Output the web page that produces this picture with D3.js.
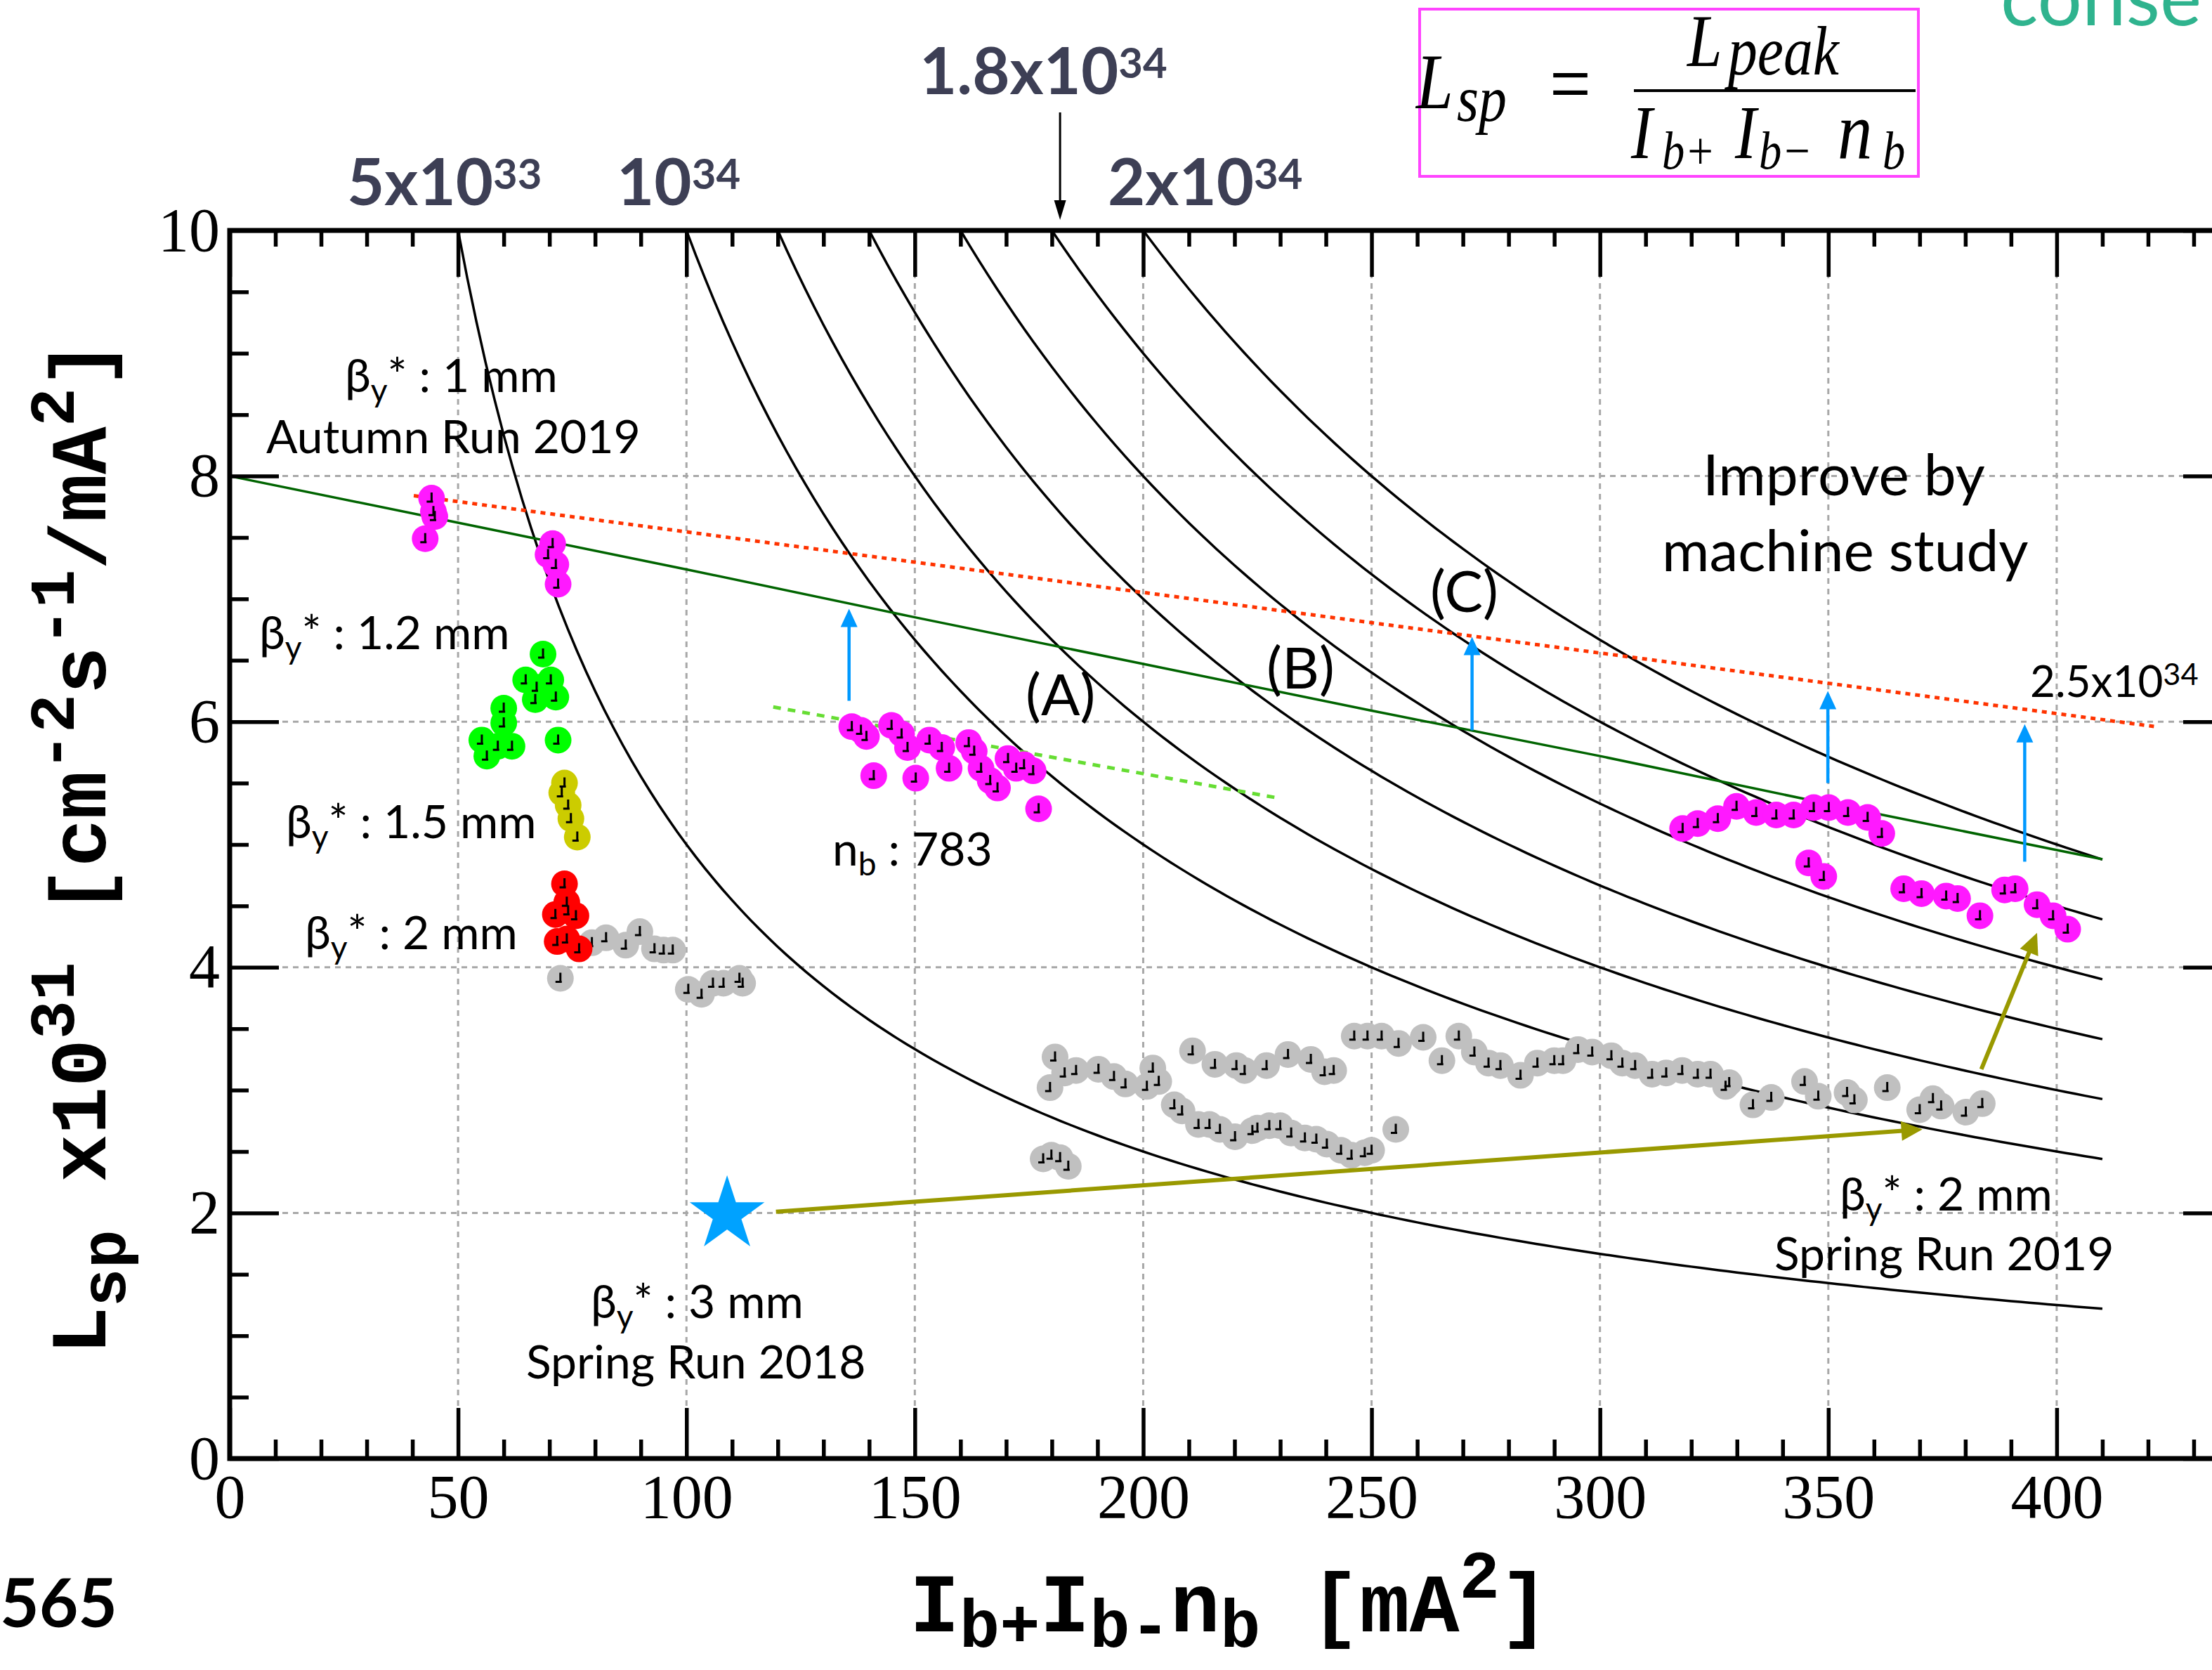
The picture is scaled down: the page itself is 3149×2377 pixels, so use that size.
<!DOCTYPE html>
<html>
<head>
<meta charset="utf-8">
<script src="https://cdn.jsdelivr.net/npm/d3@7"></script>
<style>
  html, body { margin: 0; padding: 0; background: #fff; }
  svg { display: block; }
  text { white-space: pre; }
</style>
</head>
<body>
<script>
// ---- values ----
// iso-luminosity curves, in units of 1e34
const lumLevels = [0.5, 1.0, 1.2, 1.4, 1.6, 1.8, 2.0];

// [Ib+Ib-nb (mA^2), Lsp (1e31)]
const autumn1mm = [[44.2,7.82],[44.6,7.71],[44.9,7.67],[42.8,7.49],[70.7,7.45],[69.7,7.36],[71.4,7.28],[71.9,7.12]];
const beta12 = [[68.6,6.55],[64.8,6.34],[67.2,6.28],[70.3,6.34],[71.4,6.20],[66.9,6.18],[60.0,6.11],[60.0,5.99],
  [55.2,5.85],[58.7,5.80],[61.8,5.80],[56.3,5.72],[71.9,5.85]];
const beta15 = [[73.3,5.50],[72.7,5.42],[74.1,5.32],[74.7,5.21],[76.1,5.06]];
const beta2 = [[73.3,4.68],[73.8,4.53],[71.3,4.43],[74.1,4.46],[75.8,4.42],[73.8,4.23],[71.7,4.21],[76.5,4.15]];
const nb783 = [[136.2,5.96],[138.2,5.93],[139.4,5.88],[144.9,5.97],[147.1,5.90],[148.4,5.79],[153.2,5.85],[155.9,5.79],
  [161.8,5.83],[163.0,5.76],[164.5,5.62],[166.5,5.52],[168.1,5.46],[170.4,5.70],[172.2,5.62],[173.9,5.65],
  [175.9,5.60],[177.1,5.29],[141.0,5.56],[150.2,5.54],[157.5,5.62]];
const autumnHigh = [[318.1,5.13],[321.4,5.17],[325.8,5.21],[329.9,5.31],[334.2,5.26],[338.6,5.24],[342.4,5.24],
  [346.8,5.30],[350.1,5.30],[354.3,5.26],[358.6,5.22],[361.7,5.09],[345.7,4.85],[349.0,4.74],[366.5,4.64],
  [370.4,4.60],[375.8,4.58],[378.3,4.56],[383.2,4.42],[388.6,4.63],[390.9,4.64],[395.7,4.51],[399.2,4.42],[402.4,4.31]];
const spring2019 = [[72.4,3.91],[79.3,4.20],[82.4,4.24],[86.7,4.18],[89.8,4.29],[93.0,4.15],[95.0,4.14],[97.0,4.14],
  [100.4,3.82],[103.3,3.78],[105.8,3.87],[108.1,3.87],[111.6,3.91],[112.3,3.87],
  [178.1,2.44],[179.9,2.47],[181.8,2.45],[183.6,2.38],
  [180.7,3.27],[179.6,3.02],[182.8,3.14],[185.3,3.16],[190.2,3.17],[193.6,3.11],[196.1,3.05],[200.8,3.03],[202.1,3.18],[203.4,3.07],
  [210.8,3.32],[215.7,3.21],[220.4,3.20],[222.2,3.16],[227.0,3.20],[231.7,3.29],[236.7,3.25],[239.7,3.15],[241.7,3.16],
  [246.2,3.44],[249.1,3.44],[252.2,3.44],[255.9,3.38],[261.3,3.43],[265.4,3.24],[269.1,3.44],[272.5,3.31],[275.6,3.22],
  [278.2,3.20],[282.6,3.12],[286.3,3.22],[290.0,3.24],[291.9,3.24],[295.2,3.33],[298.3,3.31],[302.5,3.28],[304.9,3.22],
  [307.7,3.20],[311.4,3.13],[314.5,3.14],[318.0,3.16],[321.4,3.13],[324.2,3.13],[327.5,3.03],[328.3,3.06],[333.5,2.88],
  [337.5,2.94],[344.8,3.07],[347.8,2.95],[354.1,2.98],[355.7,2.92],[362.9,3.02],[370.0,2.84],[372.9,2.93],[374.7,2.87],
  [380.1,2.82],[383.7,2.89],
  [206.8,2.88],[208.5,2.83],[212.1,2.72],[214.5,2.72],[216.8,2.68],[220.1,2.62],[223.9,2.67],[225.0,2.69],[227.6,2.71],
  [230.0,2.71],[232.4,2.65],[235.4,2.61],[237.9,2.60],[240.2,2.56],[243.3,2.51],[245.6,2.47],[248.5,2.49],[250.0,2.51],
  [255.3,2.68]];

const greenTrend = [[0,8.0],[50,7.62],[100,7.24],[150,6.85],[200,6.47],[250,6.09],[300,5.72],[350,5.33],[410,4.88]];
const redTarget = [[40.3,7.84],[421.5,5.96]];
const nbTrend = [[119,6.12],[229.3,5.38]];
const blueArrows = [[135.6,6.17,6.92],[272.0,5.93,6.69],[349.9,5.50,6.25],[393.0,4.86,5.98]];
const oliveArrows = [[[119.6,2.01],[370.6,2.68]],[[383.5,3.17],[395.7,4.28]]];
const star2018 = [108.9, 2.01];

const xMajor = [0,50,100,150,200,250,300,350,400];
const yMajor = [0,2,4,6,8,10];

// ---- layout ----
const width = 3149, height = 2377;
const svg = d3.select("body").append("svg").attr("width", width).attr("height", height);
svg.append("rect").attr("width", width).attr("height", height).attr("fill", "#fff");

const x = d3.scaleLinear().domain([0, 440]).range([327, 3188]);
const y = d3.scaleLinear().domain([0, 10]).range([2076, 328]);
const line = d3.line().x(d => x(d[0])).y(d => y(d[1]));

// grid
const grid = svg.append("g").attr("stroke", "#a8a8a8").attr("stroke-width", 3).attr("stroke-dasharray", "8,7");
grid.selectAll("line.v").data(xMajor.filter(d => d > 0)).enter().append("line")
  .attr("x1", d => x(d)).attr("x2", d => x(d)).attr("y1", y(0)).attr("y2", y(10));
grid.selectAll("line.h").data(yMajor.filter(d => d > 0 && d < 10)).enter().append("line")
  .attr("x1", x(0)).attr("x2", x(440)).attr("y1", d => y(d)).attr("y2", d => y(d));

// iso-luminosity curves
const curves = svg.append("g").attr("fill", "none").attr("stroke", "#000").attr("stroke-width", 3.5);
lumLevels.forEach(L => {
  const x0 = L * 100;
  const pts = d3.range(x0, 410, 2).map(v => [v, 1000 * L / v]);
  pts.push([410, 1000 * L / 410]);
  curves.append("path").attr("d", line(pts));
});

svg.append("path").attr("d", line(greenTrend)).attr("fill", "none")
  .attr("stroke", "#006400").attr("stroke-width", 3.5);
svg.append("path").attr("d", line(redTarget)).attr("fill", "none")
  .attr("stroke", "#ff3300").attr("stroke-width", 5).attr("stroke-dasharray", "7,7");
svg.append("path").attr("d", line(nbTrend)).attr("fill", "none")
  .attr("stroke", "#66dd33").attr("stroke-width", 5).attr("stroke-dasharray", "11,10");

// points
function drawSeries(data, color) {
  const g = svg.append("g");
  g.selectAll("circle").data(data).enter().append("circle")
    .attr("cx", d => x(d[0])).attr("cy", d => y(d[1])).attr("r", 19).attr("fill", color);
  g.selectAll("path").data(data).enter().append("path")
    .attr("d", d => {
      const cx = x(d[0]), cy = y(d[1]);
      return `M${cx},${cy - 8}V${cy + 6}M${cx - 7},${cy + 5}H${cx + 2}`;
    })
    .attr("stroke", "#000").attr("stroke-width", 3).attr("fill", "none");
}
drawSeries(spring2019, "#c0c0c0");
drawSeries(autumn1mm, "#ff19ff");
drawSeries(beta12, "#00ff00");
drawSeries(beta15, "#cccc00");
drawSeries(beta2, "#ff0000");
drawSeries(nb783, "#ff19ff");
drawSeries(autumnHigh, "#ff19ff");

// arrows
function arrow(x1, y1, x2, y2, color, w, headLen, headW) {
  const dx = x2 - x1, dy = y2 - y1, len = Math.hypot(dx, dy);
  const ux = dx / len, uy = dy / len;
  const bx = x2 - ux * headLen, by = y2 - uy * headLen;
  svg.append("line").attr("x1", x1).attr("y1", y1).attr("x2", bx + ux * 2).attr("y2", by + uy * 2)
    .attr("stroke", color).attr("stroke-width", w);
  svg.append("path")
    .attr("d", `M${x2},${y2}L${bx - uy * headW / 2},${by + ux * headW / 2}L${bx + uy * headW / 2},${by - ux * headW / 2}Z`)
    .attr("fill", color);
}
blueArrows.forEach(d => arrow(x(d[0]), y(d[1]), x(d[0]), y(d[2]), "#0099ff", 4.5, 26, 24));
oliveArrows.forEach(d => arrow(x(d[0][0]), y(d[0][1]), x(d[1][0]), y(d[1][1]), "#999900", 6, 30, 28));

const starR = 56;
svg.append("path")
  .attr("d", d3.symbol(d3.symbolStar, starR * starR / 0.8908130915292852)())
  .attr("transform", `translate(${x(star2018[0])},${y(star2018[1]) + 4})`)
  .attr("fill", "#00a2ff");

// axes
function styleAxis(g, labels) {
  g.select(".domain").remove();
  g.selectAll(".tick line").attr("stroke", "#000").attr("stroke-width", 5.5);
  g.selectAll("text").attr("font-family", "Liberation Serif, Times New Roman, serif")
    .attr("font-size", 88).attr("fill", "#000");
  if (!labels) g.selectAll("text").remove();
}
const minorX = d3.range(0, 441, 10).filter(v => v % 50 !== 0);
const majorXAll = d3.range(0, 441, 50);
const minorY = d3.range(0.5, 10, 0.5).filter(v => v % 2 !== 0);

svg.append("g").attr("transform", `translate(0,${y(0)})`)
  .call(d3.axisBottom(x).tickValues(xMajor).tickSize(-72).tickPadding(22).tickFormat(d3.format("d")))
  .call(g => styleAxis(g, true));
svg.append("g").attr("transform", `translate(0,${y(0)})`)
  .call(d3.axisBottom(x).tickValues(minorX).tickSize(-27)).call(g => styleAxis(g, false));
svg.append("g").attr("transform", `translate(0,${y(10)})`)
  .call(d3.axisTop(x).tickValues(majorXAll).tickSize(-66)).call(g => styleAxis(g, false));
svg.append("g").attr("transform", `translate(0,${y(10)})`)
  .call(d3.axisTop(x).tickValues(minorX).tickSize(-23)).call(g => styleAxis(g, false));
svg.append("g").attr("transform", `translate(${x(0)},0)`)
  .call(d3.axisLeft(y).tickValues(yMajor).tickSize(-70).tickPadding(14).tickFormat(d3.format("d")))
  .call(g => styleAxis(g, true));
svg.append("g").attr("transform", `translate(${x(0)},0)`)
  .call(d3.axisLeft(y).tickValues(minorY).tickSize(-27)).call(g => styleAxis(g, false));
svg.append("g").attr("transform", `translate(${x(440)},0)`)
  .call(d3.axisRight(y).tickValues(yMajor).tickSize(-80)).call(g => styleAxis(g, false));

svg.append("rect").attr("x", x(0)).attr("y", y(10)).attr("width", x(440) - x(0)).attr("height", y(0) - y(10))
  .attr("fill", "none").attr("stroke", "#000").attr("stroke-width", 7);

// rich text helper: parts = [text, "n" | "sub" | "sup"]
function rich(parent, x0, y0, parts, o) {
  const t = parent.append("text").attr("x", x0).attr("y", y0)
    .attr("font-family", o.family).attr("font-size", o.size).attr("fill", o.color || "#000");
  if (o.weight) t.attr("font-weight", o.weight);
  let cur = 0;
  parts.forEach(([s, k]) => {
    const off = k === "sub" ? o.subDy : k === "sup" ? -o.supDy : 0;
    t.append("tspan").attr("dy", off - cur).attr("font-size", k === "n" ? o.size : o.size * o.small).text(s);
    cur = off;
  });
  return t;
}

const sans = "Lato, 'Noto Sans', sans-serif";
const note = { family: sans, size: 66, small: 0.7, subDy: 14, supDy: 24 };
rich(svg, 491, 558, [["β","n"],["y","sub"],["* : 1 mm","n"]], note);
rich(svg, 379, 645, [["Autumn Run 2019","n"]], note);
rich(svg, 369, 924, [["β","n"],["y","sub"],["* : 1.2 mm","n"]], note);
rich(svg, 407, 1193, [["β","n"],["y","sub"],["* : 1.5 mm","n"]], note);
rich(svg, 434, 1351, [["β","n"],["y","sub"],["* : 2 mm","n"]], note);
rich(svg, 1185, 1232, [["n","n"],["b","sub"],[" : 783","n"]], note);
rich(svg, 841, 1876, [["β","n"],["y","sub"],["* : 3 mm","n"]], note);
rich(svg, 749, 1962, [["Spring Run 2018","n"]], note);
rich(svg, 2619, 1723, [["β","n"],["y","sub"],["* : 2 mm","n"]], note);
rich(svg, 2526, 1808, [["Spring Run 2019","n"]], note);

const big = { family: sans, size: 82, small: 0.7, subDy: 14, supDy: 24 };
rich(svg, 1460, 1018, [["(A)","n"]], big);
rich(svg, 1803, 980, [["(B)","n"]], big);
rich(svg, 2036, 871, [["(C)","n"]], big);
rich(svg, 2424, 705, [["Improve by","n"]], big);
rich(svg, 2366, 813, [["machine study","n"]], big);
rich(svg, 2890, 992, [["2.5x10","n"],["34","sup"]], { family: sans, size: 62, small: 0.7, subDy: 12, supDy: 17 });

// top luminosity labels
const topStyle = { family: sans, size: 92, small: 0.65, subDy: 0, supDy: 23, weight: 700, color: "#3d3f55" };
rich(svg, 494, 292, [["5x10","n"],["33","sup"]], topStyle);
rich(svg, 878, 292, [["10","n"],["34","sup"]], topStyle);
rich(svg, 1577, 292, [["2x10","n"],["34","sup"]], topStyle);
rich(svg, 1309, 134, [["1.8x10","n"],["34","sup"]], topStyle);
arrow(x(181.8), 160, x(181.8), 313, "#000", 3, 28, 17);

// axis titles
const mono = { family: "'Liberation Mono', 'Courier New', monospace", weight: 700, small: 0.81 };
rich(svg, 1295, 2322,
  [["I","n"],["b+","sub"],["I","n"],["b-","sub"],["n","n"],["b","sub"],[" [mA","n"],["2","sup"],["]","n"]],
  Object.assign({ size: 118, subDy: 22, supDy: 48 }, mono));
const yt = svg.append("g").attr("transform", "translate(150,1928) rotate(-90)");
rich(yt, 0, 0,
  [["L","n"],["sp","sub"],[" x10","n"],["31","sup"],[" [cm","n"],["-2","sup"],["s","n"],["-1","sup"],["/mA","n"],["2","sup"],["]","n"]],
  Object.assign({ size: 113, subDy: 28, supDy: 45 }, mono));

// formula box
const fx = svg.append("g");
fx.append("rect").attr("x", 2021).attr("y", 13).attr("width", 710).attr("height", 238)
  .attr("fill", "none").attr("stroke", "#ff44ff").attr("stroke-width", 4);
function ftext(s, x0, y0, size, italic) {
  fx.append("text").attr("transform", `translate(${x0},${y0}) scale(0.95,1.12)`)
    .attr("font-family", "'Liberation Serif', 'Times New Roman', serif")
    .attr("font-style", italic ? "italic" : "normal").attr("font-size", size).text(s);
}
ftext("L", 2016, 154, 100, true);
ftext("sp", 2074, 172, 84, true);
ftext("=", 2206, 160, 110, false);
fx.append("line").attr("x1", 2326).attr("x2", 2727).attr("y1", 129).attr("y2", 129)
  .attr("stroke", "#000").attr("stroke-width", 4);
ftext("L", 2402, 94, 94, true);
ftext("peak", 2460, 106, 88, true);
ftext("I", 2322, 225, 96, true);
ftext("b+", 2366, 240, 68, true);
ftext("I", 2470, 225, 96, true);
ftext("b−", 2504, 240, 68, true);
ftext("n", 2616, 225, 104, true);
ftext("b", 2680, 240, 68, true);

// cropped slide text
svg.append("text").attr("x", 2848).attr("y", 36).attr("font-family", sans).attr("font-size", 112)
  .attr("fill", "#2fb38e").text("conse");
svg.append("text").attr("x", 0).attr("y", 2316).attr("font-family", sans).attr("font-size", 96)
  .attr("font-weight", 700).attr("fill", "#000").text("565");
</script>
</body>
</html>
